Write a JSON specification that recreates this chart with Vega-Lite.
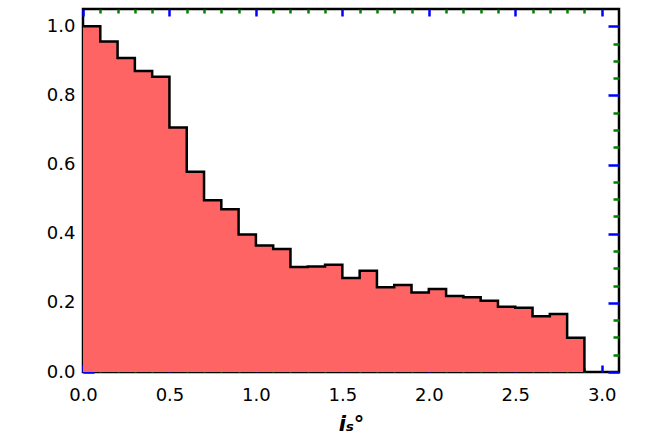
{
  "$schema": "https://vega.github.io/schema/vega-lite/v6.json",
  "width": 536,
  "height": 363,
  "autosize": {"type": "none"},
  "padding": {"left": 83, "top": 9, "right": 49, "bottom": 73},
  "config": {
    "view": {"stroke": "black", "strokeWidth": 2.5},
    "axis": {"grid": false, "domain": false, "labelFont": "DejaVu Sans", "labelFontSize": 18, "labelColor": "black", "tickWidth": 2.5, "labelFlush": false, "zindex": 2}
  },
  "data": {
    "values": [
      {"x": 0.0, "y": 1.0},
      {"x": 0.1, "y": 0.956},
      {"x": 0.2, "y": 0.908},
      {"x": 0.3, "y": 0.871},
      {"x": 0.4, "y": 0.854},
      {"x": 0.5, "y": 0.707},
      {"x": 0.6, "y": 0.579},
      {"x": 0.7, "y": 0.497},
      {"x": 0.8, "y": 0.471},
      {"x": 0.9, "y": 0.398},
      {"x": 1.0, "y": 0.366},
      {"x": 1.1, "y": 0.356},
      {"x": 1.2, "y": 0.304},
      {"x": 1.3, "y": 0.305},
      {"x": 1.4, "y": 0.31},
      {"x": 1.5, "y": 0.272},
      {"x": 1.6, "y": 0.293},
      {"x": 1.7, "y": 0.245},
      {"x": 1.8, "y": 0.252},
      {"x": 1.9, "y": 0.23},
      {"x": 2.0, "y": 0.24},
      {"x": 2.1, "y": 0.22},
      {"x": 2.2, "y": 0.216},
      {"x": 2.3, "y": 0.206},
      {"x": 2.4, "y": 0.189},
      {"x": 2.5, "y": 0.186},
      {"x": 2.6, "y": 0.161},
      {"x": 2.7, "y": 0.168},
      {"x": 2.8, "y": 0.099},
      {"x": 2.9, "y": 0.0}
    ]
  },
  "resolve": {"axis": {"x": "independent", "y": "independent"}},
  "layer": [
    {
      "mark": {"type": "area", "interpolate": "step-after", "color": "#ff6464"},
      "encoding": {
        "x": {"field": "x", "type": "quantitative", "scale": {"domain": [0, 3.1], "nice": false, "zero": false},
          "axis": {"orient": "bottom", "values": [0, 0.5, 1, 1.5, 2, 2.5, 3], "format": ".1f", "tickColor": "blue", "tickSize": -7, "labelPadding": 21,
            "title": "iₛ°", "titleFont": "DejaVu Sans", "titleFontSize": 21, "titleFontStyle": "italic", "titleFontWeight": "bold", "titlePadding": 9, "titleColor": "black"}},
        "y": {"field": "y", "type": "quantitative", "scale": {"domain": [0, 1.05], "nice": false},
          "axis": {"orient": "left", "values": [0, 0.2, 0.4, 0.6, 0.8, 1.0], "format": ".1f", "tickColor": "blue", "tickSize": -11, "labelPadding": 19, "title": null}}
      }
    },
    {
      "mark": {"type": "line", "interpolate": "step-after", "color": "black", "strokeWidth": 2.5},
      "encoding": {
        "x": {"field": "x", "type": "quantitative",
          "axis": {"orient": "bottom", "values": [0.1, 0.2, 0.3, 0.4, 0.6, 0.7, 0.8, 0.9, 1.1, 1.2, 1.3, 1.4, 1.6, 1.7, 1.8, 1.9, 2.1, 2.2, 2.3, 2.4, 2.6, 2.7, 2.8, 2.9], "labels": false, "tickColor": "green", "tickSize": -4, "title": null}},
        "y": {"field": "y", "type": "quantitative",
          "axis": {"orient": "left", "values": [0.05, 0.1, 0.15, 0.25, 0.3, 0.35, 0.45, 0.5, 0.55, 0.65, 0.7, 0.75, 0.85, 0.9, 0.95], "labels": false, "tickColor": "green", "tickSize": -6, "title": null}}
      }
    },
    {
      "mark": {"type": "line", "opacity": 0},
      "encoding": {
        "x": {"field": "x", "type": "quantitative",
          "axis": {"orient": "top", "values": [0, 0.5, 1, 1.5, 2, 2.5, 3], "labels": false, "tickColor": "blue", "tickSize": -7, "title": null}},
        "y": {"field": "y", "type": "quantitative",
          "axis": {"orient": "right", "values": [0, 0.2, 0.4, 0.6, 0.8, 1.0], "labels": false, "tickColor": "blue", "tickSize": -11, "title": null}}
      }
    },
    {
      "mark": {"type": "line", "opacity": 0},
      "encoding": {
        "x": {"field": "x", "type": "quantitative",
          "axis": {"orient": "top", "values": [0.1, 0.2, 0.3, 0.4, 0.6, 0.7, 0.8, 0.9, 1.1, 1.2, 1.3, 1.4, 1.6, 1.7, 1.8, 1.9, 2.1, 2.2, 2.3, 2.4, 2.6, 2.7, 2.8, 2.9], "labels": false, "tickColor": "green", "tickSize": -4, "title": null}},
        "y": {"field": "y", "type": "quantitative",
          "axis": {"orient": "right", "values": [0.05, 0.1, 0.15, 0.25, 0.3, 0.35, 0.45, 0.5, 0.55, 0.65, 0.7, 0.75, 0.85, 0.9, 0.95], "labels": false, "tickColor": "green", "tickSize": -6, "title": null}}
      }
    }
  ]
}
